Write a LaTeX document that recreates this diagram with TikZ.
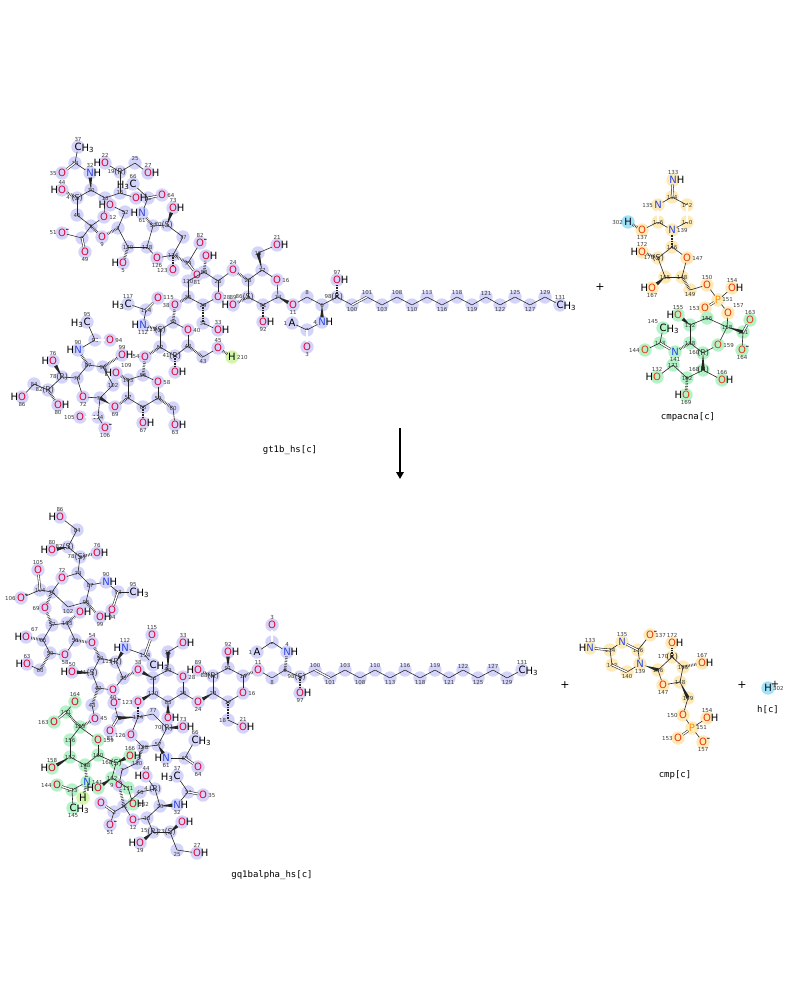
\documentclass[tikz,border=0pt]{standalone}
\usepackage{fontspec}
\newfontfamily\dv{DejaVu Sans}
\newfontfamily\dvm{DejaVu Sans Mono}
\usetikzlibrary{calc,backgrounds,arrows.meta}
\definecolor{ored}{RGB}{228,0,48}
\definecolor{ored2}{RGB}{240,50,10}
\definecolor{nblue}{RGB}{40,70,230}
\definecolor{porange}{RGB}{255,140,0}
\definecolor{numgray}{RGB}{60,60,60}
\definecolor{hlLc}{RGB}{212,212,250}
\definecolor{hlGc}{RGB}{180,242,200}
\definecolor{hlYc}{RGB}{253,234,182}
\definecolor{hlCc}{RGB}{160,226,250}
\definecolor{hlYGc}{RGB}{210,246,170}
\newcommand\af{\dv\fontsize{10}{11}\selectfont}
\newcommand\nf{\dv\fontsize{5.5}{6}\selectfont}
\newcommand\stf{\dv\fontsize{8}{9}\selectfont}
\newcommand\Ox{\textcolor{ored}{O}}
\newcommand\Oy{\textcolor{ored2}{O}}
\newcommand\Nx{\textcolor{nblue}{N}}
\newcommand\Px{\textcolor{porange}{P}}
\def\hllist{}
\newcommand\HLc[3]{\xdef\hllist{\unexpanded\expandafter{\hllist}\noexpand\fill[hl#1] (#2,#3) circle (6.7);}}
\newcommand\AtC[6]{\HLc{#5}{#2}{#3}\node[cat,label={[num,#6]0:#4}] (#1) at (#2,#3) {};}
\newcommand\AtS[6]{\HLc{#6}{#2}{#3}\node[cat,label={[stereo]0:(#5)},label={[num,anchor=center,xshift=-9pt,yshift=1pt]0:#4}] (#1) at (#2,#3) {};}
\newcommand\AtH[8]{\HLc{#7}{#2}{#3}\node[het,#8,label={[num]#6:#5}] (#1) at (#2,#3) {#4};}
\newcommand\WedgeB[2]{\path (#1) -- (#2) coordinate[pos=0] (wS) coordinate[pos=1] (wE);
 \fill[black!85] (wS) -- ($(wE)!1.8pt!90:(wS)$) -- ($(wE)!1.8pt!-90:(wS)$) -- cycle;}
\tikzset{
 hlL/.style={fill=hlLc}, hlG/.style={fill=hlGc}, hlY/.style={fill=hlYc}, hlC/.style={fill=hlCc}, hlYG/.style={fill=hlYGc}, hlN/.style={fill=none},
 cat/.style={inner sep=0pt, minimum size=0pt},
 het/.style={inner sep=0.7pt, font=\af},
 num/.style={font=\nf, text=numgray, inner sep=0.3pt},
 stereo/.style={font=\stf, text=black!75, inner sep=0pt, anchor=center},
 nc/.style={anchor=center}, na/.style={anchor=south,yshift=1.5pt}, nb/.style={anchor=north,yshift=-1.5pt},
 nl/.style={anchor=east,xshift=-1.5pt}, nr/.style={anchor=west,xshift=1.5pt},
 hR/.style={label={[font=\af,inner sep=0pt,anchor=west,xshift=-1.1pt]east:H}},
 hL/.style={label={[font=\af,inner sep=0pt,anchor=east,xshift=1.1pt]west:H}},
 h3R/.style={label={[font=\af,inner sep=0pt,anchor=west,xshift=-1pt,yshift=-1.3pt]east:H\textsubscript{3}}},
 h3L/.style={label={[font=\af,inner sep=0pt,anchor=east,xshift=1pt,yshift=-1.3pt]west:H\textsubscript{3}}},
 chM/.style={label={[font=\af,inner sep=0pt,anchor=south west,xshift=-1.5pt,yshift=-4pt]north east:-}},
 chP/.style={label={[font=\af,inner sep=0pt,anchor=south west,xshift=-2pt,yshift=-4pt]north east:+}},
 bond/.style={line width=0.6pt, black!85},
 dbond/.style={double=white, double distance=1.3pt, line width=0.55pt, black!85},
 hashb/.style={line width=2.6pt, black!85, dash pattern=on 0.5pt off 1.1pt},
 molname/.style={font=\dvm\fontsize{9}{10}\selectfont, inner sep=1pt},
 plus/.style={font=\dv\fontsize{11}{12}\selectfont, inner sep=1pt},
}
\begin{document}
\begin{tikzpicture}[x=1pt,y=-1pt]
\useasboundingbox (0,0) rectangle (800,1000);

%%%%%%%%%%%%%%%% REACTANT gt1b_hs %%%%%%%%%%%%%%%%
% ceramide
\AtH{rA1}{292}{323}{A}{1}{left}{L}{}
\AtC{rC2}{307}{330}{2}{L}{nc}
\AtH{rO3}{307}{347}{\Ox}{3}{below}{L}{}
\AtH{rN4}{322}{322}{\Nx}{4}{left}{L}{hR}
\AtC{rC6}{322}{305}{6}{L}{nc}
\AtC{rC8}{307}{297}{8}{L}{na}
\AtH{rO11}{293}{305}{\Ox}{11}{below}{L}{}
\AtS{rC98}{337}{297}{98}{R}{L}
\AtH{rO97}{337}{280}{\Ox}{97}{above}{L}{hR}
\foreach \n/\x/\y in {100/352/305,103/382/305,110/412/305,116/442/305,119/472/305,122/500/305,127/530/305}{\AtC{r\n}{\x}{\y}{\n}{L}{nb}}
\foreach \n/\x/\y in {101/367/297,108/397/297,113/427/297,118/457/297,121/486/297,125/515/297,129/545/297}{\AtC{r\n}{\x}{\y}{\n}{L}{na}}
\AtH{r131}{560}{305}{C}{131}{above}{L}{h3R}
% outer sialic
\AtH{rC37}{78}{147}{C}{37}{above}{L}{h3R}
\AtC{rC34}{75}{163}{34}{L}{nc}
\AtH{rO35}{62}{173}{\Ox}{35}{left}{L}{}
\AtH{rN32}{90}{173}{\Nx}{32}{above}{L}{hR}
\AtC{rC30b}{91}{190}{30}{L}{nc}
\AtS{rC4}{77}{198}{4}{S}{L}
\AtH{rO44}{62}{190}{\Ox}{44}{above}{L}{hL}
\AtC{rC46}{77}{215}{46}{L}{nc}
\AtC{rC11}{91}{226}{1}{L}{nc}
\AtH{rO12}{104}{217}{\Ox}{12}{right}{L}{}
\AtC{rC13}{105}{198}{13}{L}{nc}
\AtC{rC15}{120}{193}{15}{L}{nc}
\AtH{rO20}{136}{198}{\Ox}{}{right}{L}{hR}
\AtS{rC19}{120}{172}{19}{R}{L}
\AtH{rO22}{105}{163}{\Ox}{22}{above}{L}{hL}
\AtC{rC25}{135}{163}{25}{L}{na}
\AtH{rO27}{148}{173}{\Ox}{27}{above}{L}{hR}
\AtC{rC8b}{82}{238}{8}{L}{nc}
\AtH{rO51}{62}{233}{\Ox}{51}{left}{L}{chM}
\AtH{rO49}{85}{252}{\Ox}{49}{below}{L}{}
% inner sialic
\AtC{rC124}{173}{255}{124}{L}{nc}
\AtH{rO123}{173}{270}{\Ox}{123}{left}{L}{}
\AtC{rC77}{183}{237}{77}{L}{nc}
\AtS{rC70}{167}{225}{70}{S}{L}
\AtH{rO73}{173}{208}{\Ox}{73}{above}{L}{hR}
\AtC{rC57}{153}{226}{57}{L}{nc}
\AtH{rN61}{142}{213}{\Nx}{61}{below}{L}{hL}
\AtC{rC62}{148}{198}{62}{L}{nc}
\AtH{rO64}{162}{195}{\Ox}{64}{right}{L}{}
\AtH{rC66}{133}{184}{C}{66}{above}{L}{h3L}
\AtC{rC128}{147}{247}{128}{L}{nc}
\AtH{rO126}{157}{258}{\Ox}{126}{below}{L}{}
\AtC{rC130}{128}{247}{130}{L}{nc}
\AtH{rO5}{123}{263}{\Ox}{5}{below}{L}{hL}
\AtC{rC7}{118}{228}{7}{L}{nc}
\AtH{rO9}{102}{237}{\Ox}{9}{below}{L}{}
\AtC{rC52}{125}{212}{52}{L}{nc}
\AtH{rO53}{110}{205}{\Ox}{}{left}{L}{hL}
\AtC{rC79}{188}{263}{79}{L}{nc}
\AtH{rO82}{200}{243}{\Ox}{82}{above}{L}{chM}
\AtH{rO81}{197}{275}{\Ox}{81}{below}{L}{}
% Gal
\AtC{rC26}{218}{281}{26}{L}{nc}
\AtH{rO28}{218}{297}{\Ox}{28}{right}{L}{}
\AtC{rC29}{203}{305}{29}{L}{nc}
\AtC{rC36}{188}{297}{36}{L}{nc}
\AtC{rC120}{188}{281}{120}{L}{nc}
\AtC{rC83}{204}{272}{83}{L}{nc}
\AtC{rC31}{203}{323}{31}{L}{nc}
\AtH{rO33}{218}{330}{\Ox}{33}{above}{L}{hR}
\AtH{rO85}{206}{256}{\Ox}{}{right}{L}{hR}
\AtH{rO38}{175}{305}{\Ox}{38}{left}{L}{}
% Glc
\AtC{rC14}{278}{297}{14}{L}{nc}
\AtH{rO16}{277}{280}{\Ox}{16}{right}{L}{}
\AtC{rC17}{262}{270}{17}{L}{nc}
\AtC{rC18}{258}{253}{18}{L}{nc}
\AtH{rO21}{277}{245}{\Ox}{21}{above}{L}{hR}
\AtC{rC23}{248}{280}{23}{L}{nc}
\AtH{rO24}{233}{270}{\Ox}{24}{above}{L}{}
\AtS{rC86}{248}{297}{86}{S}{L}
\AtH{rO89}{233}{305}{\Ox}{89}{above}{L}{hL}
\AtC{rC91}{263}{305}{91}{L}{nc}
\AtH{rO92}{263}{322}{\Ox}{92}{below}{L}{hR}
% GalNAc
\AtC{rC30g}{173}{322}{30}{L}{nc}
\AtH{rO40}{188}{330}{\Ox}{40}{right}{L}{}
\AtC{rC42}{188}{346}{42}{L}{nc}
\AtS{rC41}{175}{356}{41}{R}{L}
\AtH{rO41}{175}{372}{\Ox}{}{below}{L}{hR}
\AtC{rC52g}{160}{347}{52}{L}{nc}
\AtS{rC111}{160}{330}{111}{S}{L}
\AtH{rN112}{143}{325}{\Nx}{112}{below}{L}{hL}
\AtC{rC114}{146}{310}{114}{L}{nc}
\AtH{rO115}{158}{298}{\Ox}{115}{right}{L}{}
\AtH{rC117}{128}{304}{C}{117}{above}{L}{h3L}
\AtH{rO54}{145}{357}{\Ox}{54}{left}{L}{}
\AtC{rC43}{203}{357}{43}{L}{nb}
\AtH{rO45}{218}{348}{\Ox}{45}{above}{L}{}
\AtH{rH210}{232}{357}{H}{210}{right}{YG}{}
% Gal II
\AtC{rC56}{143}{375}{56}{L}{nc}
\AtH{rO58}{158}{382}{\Ox}{58}{right}{L}{}
\AtC{rC59}{158}{398}{59}{L}{nc}
\AtC{rC60}{173}{408}{60}{L}{nc}
\AtH{rO63}{175}{425}{\Ox}{63}{below}{L}{hR}
\AtC{rC65}{143}{407}{65}{L}{nc}
\AtH{rO67}{143}{423}{\Ox}{67}{below}{L}{hR}
\AtC{rC57g}{128}{398}{57}{L}{nc}
\AtH{rO69}{115}{407}{\Ox}{69}{below}{L}{}
\AtC{rC103}{128}{380}{103}{L}{nc}
\AtH{rO109}{116}{373}{\Ox}{109}{above right}{L}{hL}
% Sia III
\AtC{rC100}{100}{398}{71}{L}{nc}
\AtH{rO72}{83}{397}{\Ox}{72}{below}{L}{}
\AtC{rC74}{77}{378}{74}{L}{nc}
\AtC{rC87}{88}{365}{87}{L}{nc}
\AtC{rC96}{103}{367}{96}{L}{nc}
\AtH{rO99}{122}{355}{\Ox}{99}{above}{L}{hR}
\AtC{rC102}{113}{385}{102}{L}{nc}
\AtH{rN90}{78}{350}{\Nx}{90}{above}{L}{hL}
\AtC{rC93}{95}{340}{93}{L}{nc}
\AtH{rO94}{110}{340}{\Ox}{94}{right}{L}{}
\AtH{rC95}{87}{322}{C}{95}{above}{L}{h3L}
\AtS{rC78}{62}{377}{78}{R}{L}
\AtH{rO76}{53}{361}{\Ox}{76}{above}{L}{hL}
\AtS{rC82}{48}{390}{82}{R}{L}
\AtC{rC84}{34}{384}{84}{L}{nc}
\AtH{rO86}{22}{397}{\Ox}{86}{below}{L}{hL}
\AtH{rO80}{58}{405}{\Ox}{80}{below}{L}{hR}
\AtC{rC104}{98}{417}{104}{L}{nc}
\AtH{rO105}{80}{417}{\Ox}{105}{left}{L}{}
\AtH{rO106}{105}{428}{\Ox}{106}{below}{L}{chM}

% reactant bonds
\foreach \a/\b in {rA1/rC2,rC2/rN4,rC6/rC8,rC8/rO11,rC6/rC98,rC98/r100,r101/r103,r103/r108,r108/r110,r110/r113,r113/r116,r116/r118,r118/r119,r119/r121,r121/r122,r122/r125,r125/r127,r127/r129,r129/r131,
 rC14/rO16,rO16/rC17,rC17/rC23,rC23/rC86,rC86/rC91,rC91/rC14,rC18/rO21,
 rO24/rC26,rC26/rO28,rO28/rC29,rC29/rC36,rC36/rC120,rC120/rC83,rC83/rC26,rC31/rO33,
 rC124/rC77,rC77/rC70,rC70/rC57,rC57/rC128,rC128/rO126,rO126/rC124,rN61/rC62,rC62/rC66,rC79/rO82,rC128/rC130,rC130/rC7,rC7/rC52,rC52/rO53,
 rC37/rC34,rC34/rN32,rC30b/rC4,rC4/rC46,rC46/rC11,rC11/rO12,rO12/rC13,rC13/rC30b,rC11/rC8b,rC8b/rO51,rC13/rC15,rC15/rO20,rC15/rC19,rC19/rO22,rC19/rC25,rC25/rO27,
 rC30g/rO40,rO40/rC42,rC42/rC41,rC41/rC52g,rC52g/rC111,rC111/rC30g,rN112/rC114,rC114/rC117,rC43/rO45,
 rC56/rO58,rO58/rC59,rC59/rC65,rC65/rC57g,rC57g/rC103,rC103/rC56,rC60/rO63,
 rC100/rO72,rO72/rC74,rC74/rC87,rC87/rC96,rC96/rC102,rC102/rC100,rN90/rC93,rC93/rC95,rC74/rC78,rC78/rC82,rC82/rC84,rC84/rO86,rC100/rC104,rC104/rO106}
 {\draw[bond] (\a) -- (\b);}
\foreach \a/\b in {rC2/rO3,r100/r101,rC62/rO64,rC79/rO81,rC34/rO35,rC8b/rO49,rC114/rO115,rC93/rO94,rC104/rO105}
 {\draw[dbond] (\a) -- (\b);}
\foreach \a/\b in {rC6/rN4,rC14/rO11,rC17/rC18,rC70/rO73,rC30b/rN32,rO69/rC100,rC78/rO76}
 {\WedgeB{\a}{\b}}
\foreach \a/\b in {rC98/rO97,rC23/rO24,rC86/rO89,rC91/rO92,rC29/rC31,rC36/rO38,rC83/rO85,rC124/rO123,rC57/rN61,rC124/rC79,rC130/rO5,rC7/rO9,rC4/rO44,rC11/rO9,
 rO38/rC30g,rC111/rN112,rC41/rO41,rC52g/rO54,rC42/rC43,rO45/rH210,rO54/rC56,rC59/rC60,rC65/rO67,rC57g/rO69,rC103/rO109,rC96/rO99,rC87/rN90,rC82/rO80}
 {\draw[hashb] (\a) -- (\b);}
\node[molname] (lgt) at (290,450) {gt1b\_hs[c]};
\node[plus] (plus1) at (600,287) {+};

%%%%%%%%%%%%%%%% cmpacna %%%%%%%%%%%%%%%%
\AtH{sN133}{673}{180}{\Nx}{133}{above}{Y}{hR}
\AtC{sC134}{672}{197}{134}{Y}{nc}
\AtH{sN135}{658}{205}{\Nx}{135}{left}{Y}{}
\AtC{sC136}{658}{222}{136}{Y}{nc}
\AtH{sN139}{672}{230}{\Nx}{139}{right}{Y}{}
\AtC{sC140}{687}{222}{140}{Y}{nc}
\AtC{sC142}{687}{205}{142}{Y}{nc}
\AtH{sO137}{642}{230}{\Oy}{137}{below}{Y}{}
\AtH{sH302}{628}{222}{H}{302}{left}{C}{}
\AtC{sC146}{672}{247}{146}{Y}{nc}
\AtH{sO147}{687}{258}{\Oy}{147}{right}{Y}{}
\AtC{sC148}{682}{277}{148}{Y}{nc}
\AtC{sC165}{665}{277}{165}{Y}{nc}
\AtS{sC170}{658}{258}{170}{S}{Y}
\AtH{sO172}{642}{252}{\Oy}{172}{above}{Y}{hL}
\AtH{sO167}{652}{288}{\Oy}{167}{below}{Y}{hL}
\AtC{sC149}{690}{290}{149}{Y}{nb}
\AtH{sO150}{707}{285}{\Oy}{150}{above}{Y}{}
\AtH{sP151}{718}{300}{\Px}{151}{right}{Y}{}
\AtH{sO154}{732}{288}{\Oy}{154}{above}{Y}{hR}
\AtH{sO153}{705}{308}{\Oy}{153}{left}{Y}{}
\AtH{sO157}{728}{313}{\Oy}{157}{above right}{Y}{}
\AtC{sC158}{727}{327}{158}{G}{nc}
\AtH{sO159}{718}{345}{\Oy}{159}{right}{G}{}
\AtS{sC160}{703}{353}{160}{R}{G}
\AtC{sC138}{690}{343}{138}{G}{nc}
\AtC{sC152}{690}{325}{152}{G}{nc}
\AtC{sC156}{707}{318}{156}{G}{nc}
\AtC{sC161}{743}{332}{161}{G}{nc}
\AtH{sO163}{750}{320}{\Oy}{163}{above}{G}{}
\AtH{sO164}{742}{350}{\Oy}{164}{below}{G}{chM}
\AtH{sO155}{678}{315}{\Oy}{155}{above}{G}{hL}
\AtH{sN141}{675}{352}{\Nx}{141}{below}{G}{}
\AtC{sC143}{660}{343}{143}{G}{nc}
\AtH{sO144}{645}{350}{\Oy}{144}{left}{G}{}
\AtH{sC145}{663}{328}{C}{145}{above left}{G}{h3R}
\AtS{sC168}{703}{370}{168}{R}{G}
\AtH{sO166}{722}{380}{\Oy}{166}{above}{G}{hR}
\AtC{sC162}{687}{378}{162}{G}{nc}
\AtH{sO169}{686}{395}{\Oy}{169}{below}{G}{hL}
\AtC{sC171}{673}{365}{171}{G}{nc}
\AtH{sO132}{657}{377}{\Oy}{132}{above}{G}{hL}
\foreach \a/\b in {sC134/sN135,sC136/sN139,sN139/sC140,sC142/sC134,sC136/sO137,sC146/sO147,sO147/sC148,sC148/sC165,sC165/sC170,sC170/sC146,
 sC149/sO150,sO150/sP151,sP151/sO154,sP151/sO157,sO157/sC158,sC158/sO159,sO159/sC160,sC160/sC138,sC138/sC152,sC152/sC156,sC156/sC158,sC161/sO164,
 sC143/sO144,sC143/sC145,sC168/sO166,sC168/sC162,sC162/sC171,sC171/sO132}
 {\draw[bond] (\a) -- (\b);}
\foreach \a/\b in {sN133/sC134,sN135/sC136,sC140/sC142,sP151/sO153,sC161/sO163,sN141/sC143}
 {\draw[dbond] (\a) -- (\b);}
\foreach \a/\b in {sC165/sO167,sC158/sC161,sC152/sO155,sC160/sC168}
 {\WedgeB{\a}{\b}}
\foreach \a/\b in {sO137/sH302,sN139/sC146,sC170/sO172,sC148/sC149,sC138/sN141,sC162/sO169}
 {\draw[hashb] (\a) -- (\b);}
\node[molname] (lcmpacna) at (688,417) {cmpacna[c]};

% reaction arrow
\coordinate (arrS) at (400,428);
\coordinate (arrE) at (400,479);
\draw[line width=2.2pt,-{Triangle[length=7pt,width=7.5pt]}] (arrS) -- (arrE);

%%%%%%%%%%%%%%%% PRODUCT gq1balpha_hs %%%%%%%%%%%%%%%%
\AtH{pO3}{272}{625}{\Ox}{3}{above}{L}{}
\AtC{pC2}{272}{642}{2}{L}{nc}
\AtH{pA1}{257}{652}{A}{1}{left}{L}{}
\AtH{pN4}{287}{652}{\Nx}{4}{above}{L}{hR}
\AtC{pC6}{285}{670}{6}{L}{nc}
\AtC{pC8}{272}{678}{8}{L}{nb}
\AtH{pO11}{258}{670}{\Ox}{11}{above}{L}{}
\AtS{pC98}{300}{677}{98}{S}{L}
\AtH{pO97}{300}{693}{\Ox}{97}{below}{L}{hR}
\foreach \n/\x/\y in {100/315/670,103/345/670,110/375/670,116/405/670,119/435/670,122/463/670,127/493/670}{\AtC{p\n}{\x}{\y}{\n}{L}{na}}
\foreach \n/\x/\y in {101/330/678,108/360/678,113/390/678,118/420/678,121/449/678,125/478/678,129/507/678}{\AtC{p\n}{\x}{\y}{\n}{L}{nb}}
\AtH{p131}{522}{670}{C}{131}{above}{L}{h3R}
% Glc
\AtC{pC14}{243}{676}{14}{L}{nc}
\AtH{pO16}{243}{693}{\Ox}{16}{right}{L}{}
\AtC{pC17}{228}{702}{17}{L}{nc}
\AtC{pC18}{228}{720}{18}{L}{nl}
\AtH{pO21}{243}{727}{\Ox}{21}{above}{L}{hR}
\AtC{pC23}{213}{693}{23}{L}{nc}
\AtH{pO24}{198}{702}{\Ox}{24}{below}{L}{}
\AtS{pC88}{213}{676}{88}{R}{L}
\AtH{pO89}{198}{670}{\Ox}{89}{above}{L}{hL}
\AtC{pC91}{228}{668}{91}{L}{nc}
\AtH{pO92}{228}{652}{\Ox}{92}{above}{L}{hR}
% Gal
\AtC{pC26}{183}{693}{26}{L}{nc}
\AtH{pO28}{183}{677}{\Ox}{28}{right}{L}{}
\AtC{pC29}{168}{670}{29}{L}{nc}
\AtC{pC36}{153}{678}{36}{L}{nc}
\AtC{pC120}{153}{693}{120}{L}{nc}
\AtC{pC83}{168}{702}{83}{L}{nc}
\AtC{pC31}{168}{652}{31}{L}{nc}
\AtH{pO33}{183}{643}{\Ox}{33}{above}{L}{hR}
\AtH{pO85}{168}{718}{\Ox}{}{right}{L}{hR}
\AtH{pO38}{138}{670}{\Ox}{38}{above}{L}{}
\AtH{pO123}{138}{702}{\Ox}{123}{left}{L}{}
% GalNAc
\AtC{pC30}{123}{678}{30}{L}{nc}
\AtH{pO40}{113}{690}{\Ox}{40}{below}{L}{}
\AtC{pC42}{98}{688}{42}{L}{nc}
\AtS{pC41}{92}{673}{41}{S}{L}
\AtH{pO50}{72}{672}{\Ox}{50}{above}{L}{hL}
\AtC{pC52}{100}{658}{52}{L}{nc}
\AtS{pC111}{116}{662}{111}{R}{L}
\AtH{pN112}{125}{648}{\Nx}{112}{above}{L}{hL}
\AtC{pC114}{145}{655}{114}{L}{nc}
\AtH{pO115}{152}{635}{\Ox}{115}{above}{L}{}
\AtH{pC117}{153}{665}{C}{}{above}{L}{h3R}
\AtH{pO54}{92}{643}{\Ox}{54}{above}{L}{}
\AtC{pC43}{92}{705}{43}{L}{nc}
\AtH{pO45}{95}{719}{\Ox}{45}{right}{L}{}
% Gal II
\AtC{pC56}{75}{640}{56}{L}{nc}
\AtH{pO58}{65}{655}{\Ox}{58}{below}{L}{}
\AtC{pC59}{50}{653}{59}{L}{nc}
\AtC{pC65}{43}{640}{65}{L}{nc}
\AtC{pC57}{52}{625}{57}{L}{nc}
\AtC{pC103}{67}{623}{103}{L}{nc}
\AtH{pO109}{80}{612}{\Ox}{}{right}{L}{hR}
\AtH{pO67}{26}{637}{\Ox}{67}{above right}{L}{hL}
\AtC{pC60}{40}{670}{60}{L}{nc}
\AtH{pO63}{27}{664}{\Ox}{63}{above}{L}{hL}
\AtH{pO69}{45}{608}{\Ox}{69}{left}{L}{}
% Sia III
\AtC{pC100}{52}{592}{71}{L}{nc}
\AtH{pO72}{62}{578}{\Ox}{72}{above}{L}{}
\AtC{pC74}{78}{573}{74}{L}{nc}
\AtC{pC87}{90}{585}{87}{L}{nc}
\AtC{pC96}{86}{602}{96}{L}{nc}
\AtC{pC102}{68}{607}{102}{L}{nb}
\AtH{pO99}{100}{617}{\Ox}{99}{below}{L}{hR}
\AtH{pN90}{106}{582}{\Nx}{90}{above}{L}{hR}
\AtC{pC93}{118}{592}{93}{L}{nc}
\AtH{pO94}{112}{610}{\Ox}{94}{below}{L}{}
\AtH{pC95}{133}{592}{C}{95}{above}{L}{h3R}
\AtS{pC78}{80}{557}{78}{S}{L}
\AtH{pO76}{97}{553}{\Ox}{76}{above}{L}{hR}
\AtS{pC82}{68}{547}{82}{S}{L}
\AtH{pO80}{52}{550}{\Ox}{80}{above}{L}{hL}
\AtC{pC84}{77}{530}{84}{L}{nc}
\AtH{pO86}{60}{517}{\Ox}{86}{above}{L}{hL}
\AtC{pC104}{40}{590}{104}{L}{nc}
\AtH{pO105}{38}{570}{\Ox}{105}{above}{L}{}
\AtH{pO106}{21}{598}{\Ox}{106}{left}{L}{chM}
% Sia 124
\AtC{pC124}{138}{717}{124}{L}{nc}
\AtC{pC77}{153}{714}{77}{L}{na}
\AtS{pC70}{167}{728}{70}{R}{L}
\AtH{pO73}{183}{727}{\Ox}{73}{above}{L}{hR}
\AtC{pC57s}{158}{745}{57}{L}{nc}
\AtC{pC128}{143}{747}{128}{L}{nc}
\AtH{pO126}{131}{735}{\Ox}{126}{left}{L}{}
\AtH{pN61}{166}{758}{\Nx}{61}{below}{L}{hL}
\AtC{pC62}{185}{758}{62}{L}{nc}
\AtH{pO64}{198}{767}{\Ox}{64}{below}{L}{}
\AtH{pC66}{195}{740}{C}{66}{above}{L}{h3R}
\AtC{pC79}{118}{718}{79}{L}{nc}
\AtH{pO82}{114}{703}{\Ox}{}{left}{L}{chM}
\AtH{pO81}{110}{731}{\Ox}{81}{below}{L}{}
\AtC{pC130}{137}{763}{130}{L}{nc}
\AtC{pC7}{122}{770}{7}{L}{nc}
\AtH{pO9}{119}{785}{\Ox}{9}{left}{L}{}
% outer sialic
\AtS{pC4}{155}{789}{4}{R}{L}
\AtH{pO44}{146}{776}{\Ox}{44}{above}{L}{hL}
\AtC{pC30o}{160}{806}{30}{L}{nc}
\AtC{pC13}{147}{818}{13}{L}{nc}
\AtH{pO12}{133}{820}{\Ox}{12}{below}{L}{}
\AtC{pC11}{124}{806}{11}{L}{nc}
\AtC{pC46}{140}{792}{46}{L}{nc}
\AtH{pN32}{177}{805}{\Nx}{32}{below}{L}{hR}
\AtC{pC34}{188}{792}{34}{L}{nc}
\AtH{pO35}{203}{795}{\Ox}{35}{right}{L}{}
\AtH{pC37}{177}{776}{C}{37}{above}{L}{h3L}
\AtS{pC15}{153}{832}{15}{R}{L}
\AtH{pO19}{140}{843}{\Ox}{19}{below}{L}{hL}
\AtS{pC23o}{170}{832}{23}{S}{L}
\AtH{pO22}{182}{822}{\Ox}{}{right}{L}{hR}
\AtC{pC25}{177}{850}{25}{L}{nb}
\AtH{pO27}{197}{853}{\Ox}{27}{above}{L}{hR}
\AtC{pC8b}{114}{812}{8}{L}{nc}
\AtH{pO51}{110}{825}{\Ox}{51}{below}{L}{chM}
\AtH{pO49}{101}{803}{\Ox}{}{left}{L}{}
% green sialic
\AtC{pC158}{80}{727}{155}{G}{nc}
\AtH{pO159}{98}{740}{\Ox}{159}{right}{G}{}
\AtC{pC160}{98}{755}{160}{G}{nc}
\AtC{pC138}{85}{765}{138}{G}{nc}
\AtC{pC152}{70}{757}{152}{G}{nc}
\AtC{pC156}{70}{740}{156}{G}{nc}
\AtC{pC161}{66}{712}{161}{G}{nc}
\AtH{pO163}{54}{722}{\Ox}{163}{left}{G}{}
\AtH{pO164}{75}{702}{\Ox}{164}{above}{G}{}
\AtH{pO155}{52}{768}{\Ox}{158}{above}{G}{hL}
\AtH{pN141}{87}{782}{\Nx}{141}{right}{G}{}
\AtC{pC143}{72}{790}{143}{G}{nc}
\AtH{pO144}{57}{785}{\Ox}{144}{left}{G}{}
\AtH{pC145}{73}{808}{C}{145}{below}{G}{h3R}
\AtH{pH1}{83}{798}{H}{}{below}{YG}{}
\AtS{pC168}{116}{763}{168}{S}{G}
\AtH{pO166}{130}{756}{\Ox}{166}{above}{G}{hR}
\AtC{pC162}{112}{778}{162}{G}{nc}
\AtH{pO169}{98}{788}{\Ox}{}{below}{G}{hL}
\AtC{pC171}{128}{788}{171}{G}{nc}
\AtH{pO132}{133}{804}{\Ox}{132}{right}{G}{hR}

% product bonds
\foreach \a/\b in {pA1/pC2,pC2/pN4,pC6/pC8,pC8/pO11,pC6/pC98,pC98/p100,p101/p103,p103/p108,p108/p110,p110/p113,p113/p116,p116/p118,p118/p119,p119/p121,p121/p122,p122/p125,p125/p127,p127/p129,p129/p131,
 pC14/pO16,pO16/pC17,pC17/pC23,pC23/pC88,pC88/pC91,pC91/pC14,pC18/pO21,
 pO24/pC26,pC26/pO28,pO28/pC29,pC29/pC36,pC36/pC120,pC120/pC83,pC83/pC26,pC31/pO33,
 pC30/pO40,pO40/pC42,pC42/pC41,pC41/pC52,pC52/pC111,pC111/pC30,pN112/pC114,pC114/pC117,pC43/pO45,
 pC56/pO58,pO58/pC59,pC59/pC65,pC65/pC57,pC57/pC103,pC103/pC56,pC60/pO63,
 pC100/pO72,pO72/pC74,pC74/pC87,pC87/pC96,pC96/pC102,pC102/pC100,pC87/pN90,pN90/pC93,pC93/pC95,pC74/pC78,pC78/pC82,pC82/pC84,pC84/pO86,pC100/pC104,pC104/pO106,
 pC124/pC77,pC77/pC70,pC70/pC57s,pC57s/pC128,pC128/pO126,pO126/pC124,pN61/pC62,pC62/pC66,pC79/pO82,pC130/pC7,pC7/pO9,
 pC4/pC30o,pC30o/pC13,pC13/pO12,pO12/pC11,pC11/pC46,pC46/pC4,pC4/pO44,pN32/pC34,pC34/pC37,pC13/pC15,pC15/pC23o,pC23o/pC25,pC25/pO27,pC11/pC8b,pC8b/pO51,
 pC158/pO159,pO159/pC160,pC160/pC138,pC138/pC152,pC152/pC156,pC156/pC158,pC161/pO164,pN141/pC143,pC143/pC145,pC160/pC168,pC168/pC162,pC162/pC171,pC171/pO132}
 {\draw[bond] (\a) -- (\b);}
\foreach \a/\b in {pC2/pO3,p100/p101,pC114/pO115,pC93/pO94,pC104/pO105,pC62/pO64,pC79/pO81,pC34/pO35,pC8b/pO49,pC161/pO163,pC143/pO144}
 {\draw[dbond] (\a) -- (\b);}
\foreach \a/\b in {pC23/pO24,pC91/pO92,pC29/pC31,pC36/pO38,pC120/pO123,pC83/pO85,pC111/pN112,pC41/pO50,pC82/pO80,pC70/pO73,pC57s/pN61,pC124/pC79,pC30o/pN32,pC15/pO19,pC23o/pO22,pC152/pO155,pC168/pO166,pC162/pO169}
 {\WedgeB{\a}{\b}}
\foreach \a/\b in {pC6/pN4,pC98/pO97,pC14/pO11,pC17/pC18,pC88/pO89,pO38/pC30,pC52/pO54,pC42/pC43,pO54/pC56,pC59/pC60,pC65/pO67,pC57/pO69,pC103/pO109,pO69/pC100,pC96/pO99,pC78/pO76,
 pO123/pC124,pC128/pC130,pO9/pC11,pO45/pC158,pC158/pC161,pC138/pN141,pN141/pH1}
 {\draw[hashb] (\a) -- (\b);}
\node[molname] (lgq) at (272,875) {gq1balpha\_hs[c]};
\node[plus] (plus2) at (565,685) {+};

%%%%%%%%%%%%%%%% cmp %%%%%%%%%%%%%%%%
\AtH{qN133}{590}{648}{\Nx}{133}{above}{Y}{hL}
\AtC{qC134}{610}{650}{134}{Y}{nc}
\AtH{qN135}{622}{642}{\Nx}{135}{above}{Y}{}
\AtC{qC136}{638}{650}{136}{Y}{nc}
\AtH{qO137}{650}{635}{\Oy}{137}{right}{Y}{chM}
\AtH{qN139}{640}{664}{\Nx}{139}{below}{Y}{}
\AtC{qC140}{627}{672}{140}{Y}{nb}
\AtC{qC142}{612}{665}{142}{Y}{nc}
\AtC{qC146}{658}{670}{146}{Y}{nc}
\AtH{qO147}{663}{685}{\Oy}{147}{below}{Y}{}
\AtC{qC148}{680}{682}{148}{Y}{nc}
\AtC{qC165}{683}{667}{165}{Y}{nc}
\AtS{qC170}{672}{657}{170}{R}{Y}
\AtH{qO172}{672}{643}{\Oy}{172}{above}{Y}{hR}
\AtH{qO167}{702}{663}{\Oy}{167}{above}{Y}{hR}
\AtC{qC149}{688}{698}{149}{Y}{nc}
\AtH{qO150}{683}{715}{\Oy}{150}{left}{Y}{}
\AtH{qP151}{692}{728}{\Px}{151}{right}{Y}{}
\AtH{qO154}{707}{718}{\Oy}{154}{above}{Y}{hR}
\AtH{qO153}{678}{738}{\Oy}{153}{left}{Y}{}
\AtH{qO157}{703}{742}{\Oy}{157}{below}{Y}{chM}
\foreach \a/\b in {qC134/qN135,qC136/qO137,qC136/qN139,qN139/qC140,qC142/qC134,qC146/qO147,qO147/qC148,qC148/qC165,qC165/qC170,qC170/qC146,qC149/qO150,qO150/qP151,qP151/qO154,qP151/qO157}
 {\draw[bond] (\a) -- (\b);}
\foreach \a/\b in {qN133/qC134,qN135/qC136,qC140/qC142,qP151/qO153}
 {\draw[dbond] (\a) -- (\b);}
\foreach \a/\b in {qN139/qC146,qC148/qC149}
 {\WedgeB{\a}{\b}}
\foreach \a/\b in {qC170/qO172,qC165/qO167}
 {\draw[hashb] (\a) -- (\b);}
\node[molname] (lcmp) at (675,775) {cmp[c]};
\node[plus] (plus3) at (742,685) {+};

%%%%%%%%%%%%%%%% h %%%%%%%%%%%%%%%%
\AtH{hH302}{768}{688}{H}{302}{right}{C}{chP}
\node[molname] (lh) at (768,710) {h[c]};

% highlights (single background layer)
\begin{pgfonlayer}{background}
\fill[white] (0,0) rectangle (800,1000);
\hllist
\end{pgfonlayer}
\end{tikzpicture}
\end{document}
